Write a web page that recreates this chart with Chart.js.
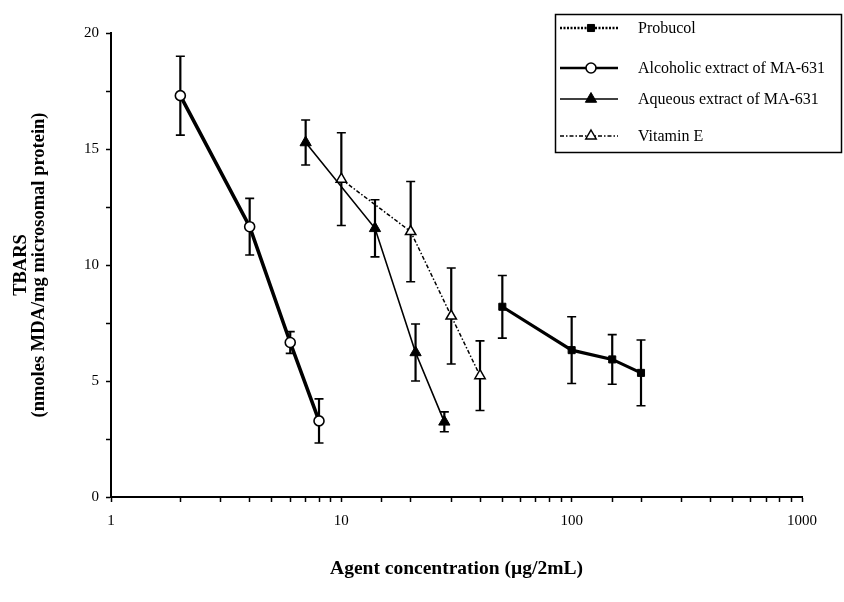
<!DOCTYPE html>
<html><head><meta charset="utf-8">
<script src="https://cdn.jsdelivr.net/npm/chart.js@4/dist/chart.umd.min.js"></script>
<style>html,body{margin:0;padding:0;background:#fff}</style>
</head><body>
<canvas id="c" width="844" height="602"></canvas>
<script>
// ---- data ----
const seriesNames = ["Probucol", "Alcoholic extract of MA-631", "Aqueous extract of MA-631", "Vitamin E"];
const probucolX = [50, 100, 150, 200];
const probucolY = [8.2, 6.33, 5.93, 5.35];
const probucolErr = [1.35, 1.44, 1.07, 1.42];
const alcoholicX = [2, 4, 6, 8];
const alcoholicY = [17.3, 11.65, 6.66, 3.28];
const alcoholicErr = [1.7, 1.22, 0.47, 0.95];
const aqueousX = [7, 14, 21, 28];
const aqueousY = [15.28, 11.58, 6.23, 3.24];
const aqueousErr = [0.97, 1.23, 1.23, 0.43];
const vitEX = [10, 20, 30, 40];
const vitEY = [13.7, 11.44, 7.8, 5.23];
const vitEErr = [2.0, 2.16, 2.07, 1.5];
const yTickLabels = [0, 5, 10, 15, 20];
const xTickLabels = [1, 10, 100, 1000];

const FONT = "'Liberation Serif', 'DejaVu Serif', serif";
const pts = (xs, ys) => xs.map((x, i) => ({x: x, y: ys[i]}));
const errs = [probucolErr, alcoholicErr, aqueousErr, vitEErr];

const datasets = [
  {label: seriesNames[0], data: pts(probucolX, probucolY), borderColor: '#000', backgroundColor: '#000',
   borderWidth: 3.2, pointStyle: 'rect', pointRadius: 5, pointBackgroundColor: '#000', pointBorderWidth: 1, legendDash: [2, 1.5]},
  {label: seriesNames[1], data: pts(alcoholicX, alcoholicY), borderColor: '#000', backgroundColor: '#fff',
   borderWidth: 3.6, pointStyle: 'circle', pointRadius: 5, pointBackgroundColor: '#fff', pointBorderWidth: 1.6, legendDash: []},
  {label: seriesNames[2], data: pts(aqueousX, aqueousY), borderColor: '#000', backgroundColor: '#000',
   borderWidth: 1.6, pointStyle: 'triangle', pointRadius: 6.5, pointBackgroundColor: '#000', pointBorderWidth: 1, legendDash: []},
  {label: seriesNames[3], data: pts(vitEX, vitEY), borderColor: '#000', backgroundColor: '#fff',
   borderWidth: 1.5, borderDash: [4, 2, 1.5, 2], pointStyle: 'triangle', pointRadius: 6, pointBackgroundColor: '#fff', pointBorderWidth: 1.5, legendDash: [4, 2, 1.5, 2]}
];
datasets.forEach(d => { d.showLine = true; d.tension = 0; d.fill = false; d.pointBorderColor = '#000'; d.pointHoverRadius = d.pointRadius; });

const errorBars = {
  id: 'errorBars',
  beforeDatasetsDraw(chart) {
    const ctx = chart.ctx, xs = chart.scales.x, ys = chart.scales.y;
    ctx.save();
    ctx.strokeStyle = '#000';
    chart.data.datasets.forEach((ds, di) => {
      ds.data.forEach((p, i) => {
        const e = errs[di][i];
        const px = xs.getPixelForValue(p.x);
        const top = ys.getPixelForValue(p.y + e), bot = ys.getPixelForValue(p.y - e);
        ctx.lineWidth = 2.2;
        ctx.beginPath(); ctx.moveTo(px, top); ctx.lineTo(px, bot); ctx.stroke();
        ctx.lineWidth = 1.6;
        ctx.beginPath();
        ctx.moveTo(px - 4.5, top); ctx.lineTo(px + 4.5, top);
        ctx.moveTo(px - 4.5, bot); ctx.lineTo(px + 4.5, bot);
        ctx.stroke();
      });
    });
    ctx.restore();
  }
};

function marker(ctx, style, x, y, r, fill, bw) {
  ctx.beginPath();
  if (style === 'circle') ctx.arc(x, y, r, 0, Math.PI * 2);
  else if (style === 'rect') { const s = Math.SQRT1_2 * r; ctx.rect(x - s, y - s, 2 * s, 2 * s); }
  else if (style === 'triangle') {
    ctx.moveTo(x, y - r); ctx.lineTo(x + r * 0.866, y + r * 0.5); ctx.lineTo(x - r * 0.866, y + r * 0.5); ctx.closePath();
  }
  ctx.fillStyle = fill; ctx.fill();
  ctx.lineWidth = bw; ctx.setLineDash([]); ctx.strokeStyle = '#000'; ctx.stroke();
}

const boxLegend = {
  id: 'boxLegend',
  afterDraw(chart) {
    const ctx = chart.ctx;
    const rows = [28, 68, 99, 136];
    ctx.save();
    ctx.fillStyle = '#fff';
    ctx.fillRect(555, 14, 287, 139);
    ctx.strokeStyle = '#000'; ctx.lineWidth = 1.5;
    ctx.strokeRect(555.5, 14.5, 286, 138);
    chart.data.datasets.forEach((ds, i) => {
      const y = rows[i];
      ctx.strokeStyle = '#000';
      ctx.lineWidth = Math.min(ds.borderWidth, 2.6);
      ctx.setLineDash(ds.legendDash);
      ctx.beginPath(); ctx.moveTo(560, y); ctx.lineTo(618, y); ctx.stroke();
      marker(ctx, ds.pointStyle, 591, y, ds.pointRadius, ds.pointBackgroundColor, ds.pointBorderWidth);
      ctx.fillStyle = '#000';
      ctx.font = "16px " + FONT;
      ctx.textBaseline = 'middle'; ctx.textAlign = 'left';
      ctx.fillText(ds.label, 638, y + 1);
    });
    ctx.restore();
  }
};

new Chart(document.getElementById('c'), {
  type: 'scatter',
  data: {datasets: datasets},
  plugins: [errorBars, boxLegend],
  options: {
    responsive: false, animation: false, devicePixelRatio: 1,
    layout: {padding: {left: 0, top: 33, right: 42, bottom: 0}},
    plugins: {legend: {display: false}, tooltip: {enabled: false}},
    scales: {
      x: {
        type: 'logarithmic', min: 1, max: 1000,
        afterFit(s) { s.height = 105; },
        border: {display: true, color: '#000', width: 2},
        grid: {drawOnChartArea: false, drawTicks: true, tickLength: 5, tickColor: '#000', tickWidth: 1.5},
        ticks: {
          autoSkip: false, maxRotation: 0, padding: 10, color: '#000',
          font: {family: FONT, size: 15},
          callback: (v) => xTickLabels.includes(v) ? String(v) : ''
        },
        title: {display: true, text: 'Agent concentration (µg/2mL)', color: '#000',
          font: {family: FONT, size: 19.5, weight: 'bold', lineHeight: 1.2}, padding: {top: 0, bottom: 21}}
      },
      y: {
        min: 0, max: 20,
        afterFit(s) { s.width = 111; },
        border: {display: true, color: '#000', width: 2},
        grid: {drawOnChartArea: false, drawTicks: true, tickLength: 5, tickColor: '#000', tickWidth: 1.5},
        ticks: {
          stepSize: 2.5, padding: 7, color: '#000',
          font: {family: FONT, size: 15},
          callback: (v) => yTickLabels.includes(v) ? String(v) : ''
        },
        title: {display: true, text: ['TBARS', '(nmoles MDA/mg microsomal protein)'], color: '#000',
          font: {family: FONT, size: 18.5, weight: 'bold', lineHeight: 0.97}, padding: {top: 12, bottom: 0}}
      }
    }
  }
});
</script>
</body></html>
